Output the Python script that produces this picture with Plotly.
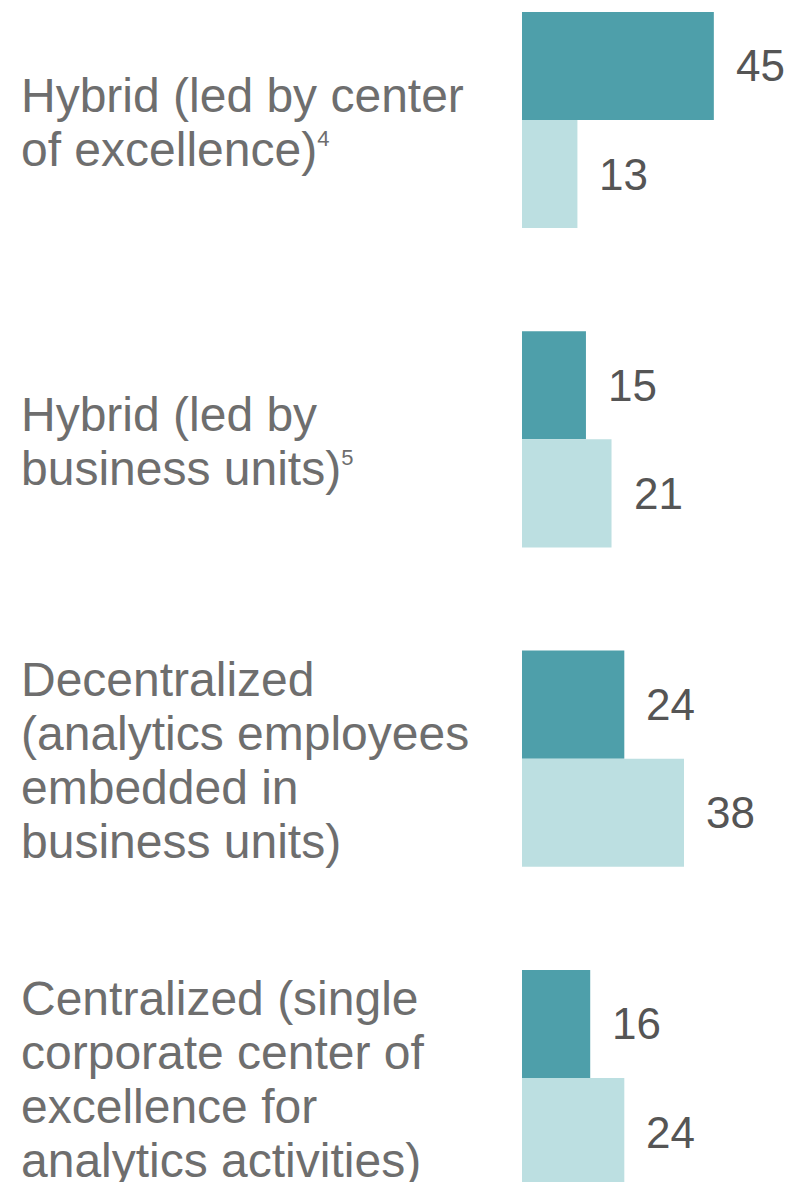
import plotly.graph_objects as go

# ---- data ----
categories = ["hybrid_coe", "hybrid_bu", "decentralized", "centralized"]
category_labels = [
    ["Hybrid (led by center", "of excellence)<sup><span style='font-size:22px'>4</span></sup>"],
    ["Hybrid (led by", "business units)<sup><span style='font-size:22px'>5</span></sup>"],
    ["Decentralized", "(analytics employees", "embedded in", "business units)"],
    ["Centralized (single", "corporate center of", "excellence for", "analytics activities)"],
]
series_a = [45, 15, 24, 16]   # dark teal
series_b = [13, 21, 38, 24]   # light teal

# ---- style ----
W, H = 791, 1182
LEFT = 522
DARK = "#4e9faa"
LIGHT = "#bcdfe1"
LABEL_COLOR = "#6e6e6e"
NUM_COLOR = "#555555"
FONT = "Liberation Sans, Arial, sans-serif"
BARGAP = 0.323
LINE_PX = 54
X_MAX = 63.1
Y_RANGE = [3.3257, -0.3758]

fig = go.Figure()
fig.add_trace(go.Bar(y=categories, x=series_a, orientation="h",
                     marker=dict(color=DARK, line=dict(width=0)), showlegend=False))
fig.add_trace(go.Bar(y=categories, x=series_b, orientation="h",
                     marker=dict(color=LIGHT, line=dict(width=0)), showlegend=False))

annotations = []
half = (1 - BARGAP) / 4
plot_w = W - LEFT
for i, lines in enumerate(category_labels):
    n = len(lines)
    for j, line in enumerate(lines):
        annotations.append(dict(
            xref="paper", yref="y", x=(19 - LEFT) / plot_w, y=i,
            xanchor="left", yanchor="middle", showarrow=False,
            yshift=-(j - (n - 1) / 2) * LINE_PX - 2,
            text=line, font=dict(family=FONT, size=48, color=LABEL_COLOR),
        ))
    for val, off in ((series_a[i], -half), (series_b[i], half)):
        annotations.append(dict(
            xref="x", yref="y", x=val, y=i + off,
            xanchor="left", yanchor="middle", showarrow=False, xshift=20,
            text=str(val), font=dict(family=FONT, size=44, color=NUM_COLOR),
        ))

fig.update_layout(
    width=W, height=H,
    margin=dict(l=LEFT, r=0, t=0, b=0),
    paper_bgcolor="white", plot_bgcolor="white",
    barmode="group", bargap=BARGAP, bargroupgap=0,
    xaxis=dict(range=[0, X_MAX], visible=False, fixedrange=True),
    yaxis=dict(range=Y_RANGE, visible=False, type="category", fixedrange=True),
    annotations=annotations,
)

fig.write_html("out.html", config={"displayModeBar": False})
